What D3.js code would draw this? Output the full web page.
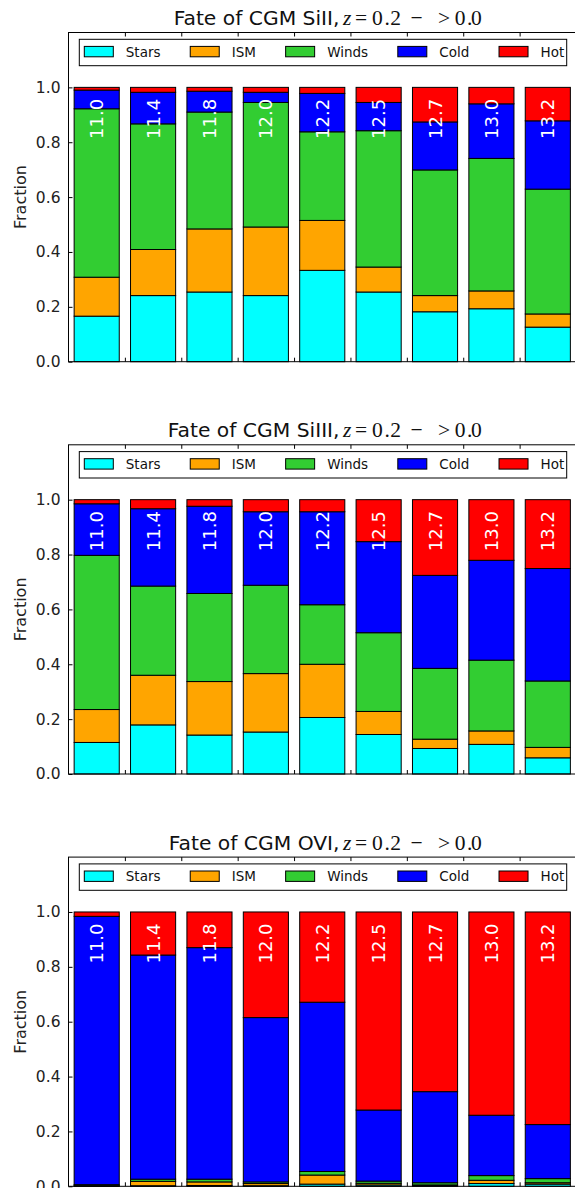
<!DOCTYPE html>
<html><head><meta charset="utf-8">
<script src="https://cdn.jsdelivr.net/npm/d3@7/dist/d3.min.js"></script>
<style>body{margin:0;background:#fff} svg{display:block}</style>
</head><body>
<script>
// ---------- data ----------
const categories = ["11.0","11.4","11.8","12.0","12.2","12.5","12.7","13.0","13.2"];
const seriesNames = ["Stars","ISM","Winds","Cold","Hot"];
const seriesColors = ["#00ffff","#ffa500","#32cd32","#0000ff","#ff0000"];
const yTickValues = [0,0.2,0.4,0.6,0.8,1.0];
const ions = ["SiII","SiIII","OVI"];

const siiStars  = [0.166,0.241,0.254,0.241,0.333,0.254,0.182,0.193,0.126];
const siiISM    = [0.142,0.168,0.230,0.250,0.182,0.091,0.059,0.065,0.048];
const siiWinds  = [0.614,0.458,0.426,0.454,0.323,0.497,0.458,0.483,0.455];
const siiCold   = [0.068,0.115,0.076,0.037,0.140,0.103,0.175,0.199,0.249];
const siiHot    = [0.010,0.018,0.014,0.018,0.022,0.055,0.126,0.060,0.122];

const siiiStars = [0.115,0.179,0.142,0.153,0.206,0.144,0.093,0.108,0.059];
const siiiISM   = [0.120,0.181,0.195,0.213,0.194,0.084,0.034,0.049,0.038];
const siiiWinds = [0.562,0.325,0.321,0.322,0.217,0.287,0.258,0.258,0.242];
const siiiCold  = [0.188,0.282,0.318,0.268,0.339,0.332,0.339,0.364,0.410];
const siiiHot   = [0.015,0.033,0.024,0.044,0.044,0.153,0.276,0.221,0.251];

const oviStars  = [0.001,0.002,0.003,0.002,0.008,0.005,0.002,0.010,0.008];
const oviISM    = [0.001,0.016,0.013,0.008,0.033,0.006,0.003,0.012,0.005];
const oviWinds  = [0.004,0.008,0.010,0.006,0.013,0.008,0.008,0.017,0.015];
const oviCold   = [0.978,0.817,0.844,0.599,0.617,0.259,0.332,0.220,0.197];
const oviHot    = [0.016,0.157,0.130,0.385,0.329,0.722,0.655,0.741,0.775];

const panelSeries = [
  [siiStars, siiISM, siiWinds, siiCold, siiHot],
  [siiiStars, siiiISM, siiiWinds, siiiCold, siiiHot],
  [oviStars, oviISM, oviWinds, oviCold, oviHot]
];

// ---------- layout ----------
const W = 575, H = 1188;
const left = 68.5, right = 576;
const panelTops = [32.5, 444.8, 857.1];
const plotH = 329.2;
const SANS = "'DejaVu Sans', sans-serif";
const SERIF = "'Liberation Serif', 'DejaVu Serif', serif";

const svg = d3.select("body").append("svg").attr("width", W).attr("height", H)
  .style("background", "#fff");

const xBand = d3.scaleBand().domain(categories).range([left, right])
  .paddingInner(0.2).paddingOuter(0.1);
const xLin = d3.scaleLinear().domain([0, categories.length]).range([left, right]);
const stack = d3.stack().keys(seriesNames);
const color = d3.scaleOrdinal().domain(seriesNames).range(seriesColors);

// math part of the title: glyph and its offset from the title centre
const mathGlyphs = [
  {s: "z", off: 20.2, it: true},
  {s: "=", off: 32.2},
  {s: "0", off: 49.3},
  {s: ".", off: 61.8},
  {s: "2", off: 67.6},
  {s: "\u2212", off: 87.8},
  {s: ">", off: 115.2},
  {s: "0", off: 132.0},
  {s: ".", off: 144.3},
  {s: "0", off: 148.3}
];

panelSeries.forEach((series, p) => {
  const top = panelTops[p];
  const y = d3.scaleLinear().domain([0, 1.2]).range([top + plotH, top]);
  const g = svg.append("g");

  const rows = categories.map((c, i) => {
    const r = {cat: c};
    seriesNames.forEach((s, k) => r[s] = series[k][i]);
    return r;
  });
  const layers = stack(rows);

  // bars
  g.selectAll("g.layer").data(layers).join("g").attr("class", "layer")
    .attr("fill", d => color(d.key))
    .selectAll("rect").data(d => d).join("rect")
    .attr("x", d => xBand(d.data.cat))
    .attr("width", xBand.bandwidth())
    .attr("y", d => y(d[1]))
    .attr("height", d => y(d[0]) - y(d[1]))
    .attr("stroke", "#000").attr("stroke-width", 1);

  // bar labels
  g.selectAll("text.blab").data(categories).join("text").attr("class", "blab")
    .attr("transform", d => `translate(${xBand(d) + xBand.bandwidth() / 2},${y(0.812)}) rotate(-90)`)
    .attr("dy", "0.36em")
    .attr("text-anchor", "start")
    .attr("fill", "#fff")
    .style("font-family", SANS).style("font-size", "18px")
    .text(d => d);

  // frame
  g.append("rect").attr("x", left).attr("y", top)
    .attr("width", right - left).attr("height", plotH)
    .attr("fill", "none").attr("stroke", "#000").attr("stroke-width", 1);

  // y axis
  const ya = g.append("g").attr("transform", `translate(${left},0)`)
    .call(d3.axisLeft(y).tickValues(yTickValues).tickFormat(d3.format(".1f"))
      .tickSizeInner(-4).tickSizeOuter(0).tickPadding(8));
  ya.select(".domain").remove();
  ya.selectAll("text").style("font-family", SANS).style("font-size", "15.5px").attr("fill", "#222");
  ya.selectAll("line").attr("stroke", "#000");

  // x ticks (no labels), inward, bottom and top
  const xt = d3.range(1, categories.length);
  const xb = g.append("g").attr("transform", `translate(0,${top + plotH})`)
    .call(d3.axisBottom(xLin).tickValues(xt).tickFormat("").tickSizeInner(-4).tickSizeOuter(0));
  xb.select(".domain").remove();
  const xtp = g.append("g").attr("transform", `translate(0,${top})`)
    .call(d3.axisTop(xLin).tickValues(xt).tickFormat("").tickSizeInner(-4).tickSizeOuter(0));
  xtp.select(".domain").remove();
  g.selectAll(".tick line").attr("stroke", "#000");

  // y label
  g.append("text")
    .attr("transform", `translate(25.7,${top + plotH / 2}) rotate(-90)`)
    .attr("text-anchor", "middle")
    .style("font-family", SANS).style("font-size", "16px").attr("fill", "#222")
    .text("Fraction");

  // title
  const cxT = (left + right) / 2 + 0.5;
  const ty = top - 7.5;
  g.append("text").attr("x", cxT + 16.8).attr("y", ty)
    .attr("text-anchor", "end").attr("fill", "#111")
    .style("font-family", SANS).style("font-size", "20.3px")
    .text(`Fate of CGM ${ions[p]},`);
  g.selectAll("text.math").data(mathGlyphs).join("text").attr("class", "math")
    .attr("x", d => cxT + d.off).attr("y", ty)
    .attr("fill", "#111")
    .style("font-family", SERIF).style("font-size", "21.5px")
    .style("font-style", d => d.it ? "italic" : "normal")
    .text(d => d.s);

  // legend
  const lg = g.append("g");
  const lx0 = 79.3, lw = 487.4, ly = top + 6.8, lh = 26.4;
  lg.append("rect").attr("x", lx0).attr("y", ly).attr("width", lw).attr("height", lh)
    .attr("fill", "#fff").attr("stroke", "#000").attr("stroke-width", 1);
  let cx = 84.3;
  seriesNames.forEach((s, k) => {
    lg.append("rect").attr("x", cx).attr("y", top + 13.9).attr("width", 29).attr("height", 10.4)
      .attr("fill", color(s)).attr("stroke", "#000").attr("stroke-width", 1);
    const tx = lg.append("text").attr("x", cx + 41.5).attr("y", top + 24.2)
      .style("font-family", SANS).style("font-size", "13.5px").attr("fill", "#111")
      .text(s);
    cx = cx + 41.5 + tx.node().getComputedTextLength() + 29.7;
  });
});
</script>
</body></html>
